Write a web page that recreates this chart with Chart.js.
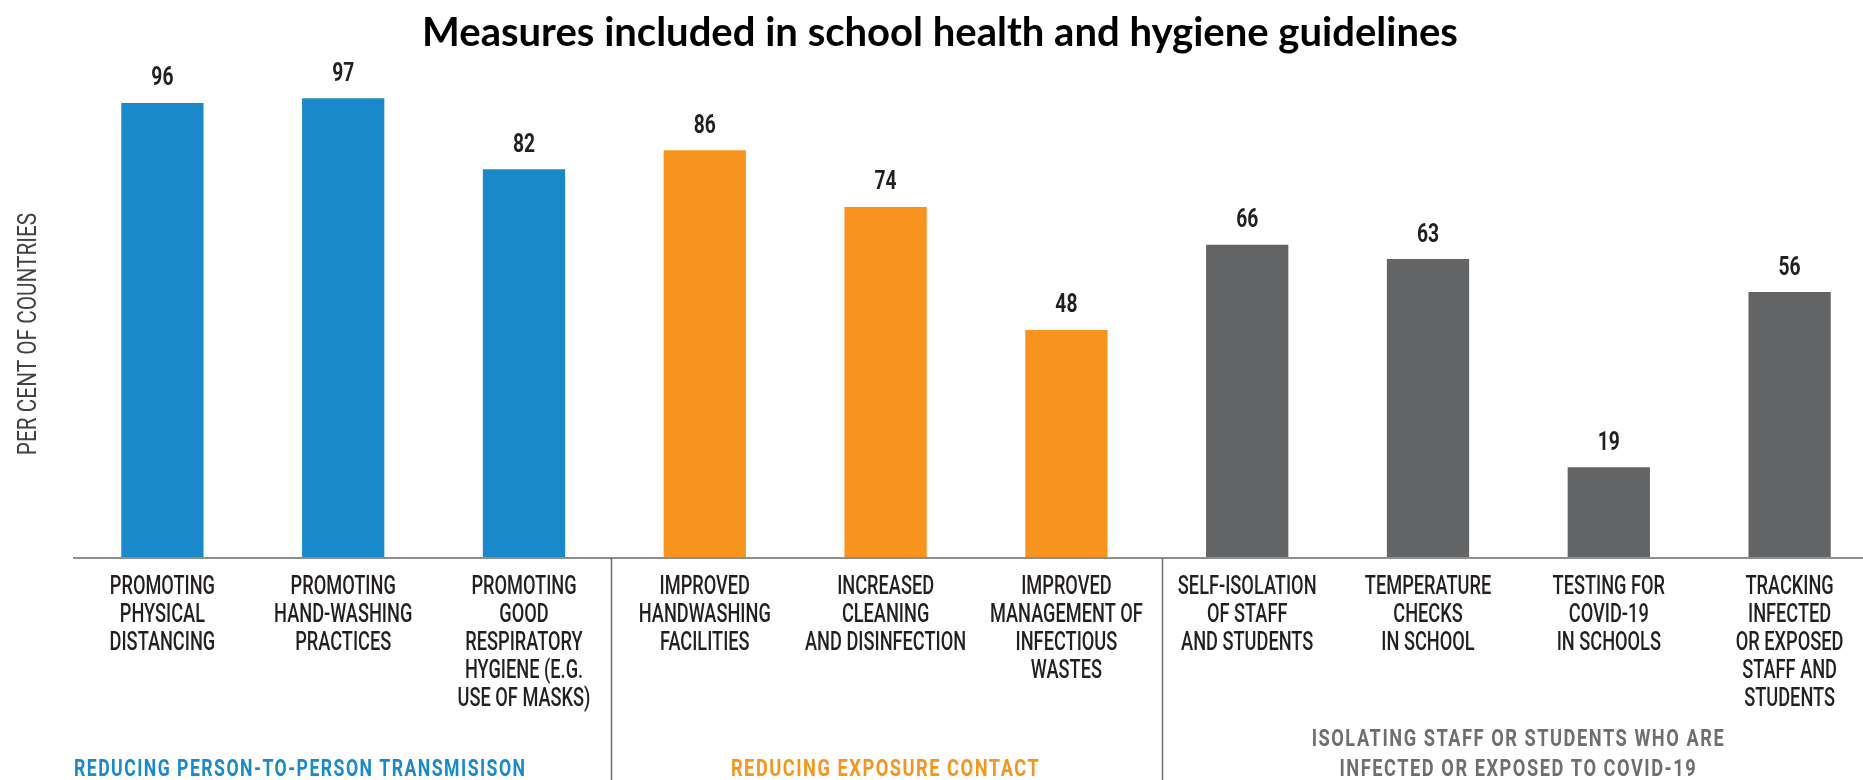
<!DOCTYPE html>
<html><head><meta charset="utf-8">
<script src="https://cdn.jsdelivr.net/npm/chart.js@4.4.1/dist/chart.umd.min.js"></script>
<style>
html,body{margin:0;padding:0;overflow:hidden;background:#fff;width:1863px;height:780px}
#wrap{position:absolute;left:0;top:0;width:1880px;height:780px}
</style></head><body>
<div id="wrap"><canvas id="c" width="1880" height="780"></canvas></div>
<script>
const chartTitle = 'Measures included in school health and hygiene guidelines';
const yAxisTitle = 'PER CENT OF COUNTRIES';
const categories = [
  ['PROMOTING','PHYSICAL','DISTANCING'],
  ['PROMOTING','HAND-WASHING','PRACTICES'],
  ['PROMOTING','GOOD','RESPIRATORY','HYGIENE (E.G.','USE OF MASKS)'],
  ['IMPROVED','HANDWASHING','FACILITIES'],
  ['INCREASED','CLEANING','AND DISINFECTION'],
  ['IMPROVED','MANAGEMENT OF','INFECTIOUS','WASTES'],
  ['SELF-ISOLATION','OF STAFF','AND STUDENTS'],
  ['TEMPERATURE','CHECKS','IN SCHOOL'],
  ['TESTING FOR','COVID-19','IN SCHOOLS'],
  ['TRACKING','INFECTED','OR EXPOSED','STAFF AND','STUDENTS']
];
const values = [96, 97, 82, 86, 74, 48, 66, 63, 19, 56];
const groupOf = [0, 0, 0, 1, 1, 1, 2, 2, 2, 2];
const groupLabels = [
  ['REDUCING PERSON-TO-PERSON TRANSMISISON'],
  ['REDUCING EXPOSURE CONTACT'],
  ['ISOLATING STAFF OR STUDENTS WHO ARE', 'INFECTED OR EXPOSED TO COVID-19']
];
const groupBarColors = ['#1A89C9', '#F7941E', '#636466'];
const groupTextColors = ['#1A89C9', '#F7941E', '#6D6E70'];

// ---- styling helpers ----
const TEXT_DARK = '#231F20';
const dividerShift = [-3, 5];
const measureCtx = document.createElement('canvas').getContext('2d');
function fitSize(text, font, target) {
  measureCtx.font = font.replace('{s}', '100px');
  return 100 * target / measureCtx.measureText(text).width;
}
function ctext(ctx, str, x, y, font, color, sx, align) {
  ctx.save();
  ctx.font = font;
  ctx.fillStyle = color;
  ctx.textBaseline = 'middle';
  ctx.textAlign = align || 'center';
  ctx.translate(x, y);
  ctx.scale(sx, 1);
  ctx.fillText(str, 0, 0);
  ctx.restore();
}

const titleSize = fitSize(chartTitle, 'bold {s} Lato', 1036);
const titleCenter = 33;
const plotTop = 84;
const padTop = titleCenter - 0.6 * titleSize;
const padBottom = plotTop - padTop - 1.2 * titleSize;

const overlay = {
  id: 'overlay',
  afterDatasetsDraw(chart) {
    const ctx = chart.ctx;
    const xs = chart.scales.x, ys = chart.scales.y;
    const y0 = ys.getPixelForValue(0);
    const W = chart.width;
    // baseline
    ctx.save();
    ctx.strokeStyle = '#8E8E8E';
    ctx.lineWidth = 2;
    ctx.beginPath();
    ctx.moveTo(chart.chartArea.left + 1, y0 + 1);
    ctx.lineTo(W, y0 + 1);
    ctx.stroke();
    // group dividers
    ctx.strokeStyle = '#6E6E6E';
    ctx.lineWidth = 1.5;
    let d = 0;
    for (let i = 1; i < values.length; i++) {
      if (groupOf[i] !== groupOf[i - 1]) {
        const xd = Math.round((xs.getPixelForValue(i - 1) + xs.getPixelForValue(i)) / 2) + dividerShift[d++] + 0.5;
        ctx.beginPath();
        ctx.moveTo(xd, y0 + 1);
        ctx.lineTo(xd, chart.height);
        ctx.stroke();
      }
    }
    ctx.restore();

    // value labels
    values.forEach((v, i) => {
      const x = xs.getPixelForValue(i);
      const yt = ys.getPixelForValue(v);
      ctext(ctx, String(v), x, yt - 24, 'bold 26px Roboto', TEXT_DARK, 0.74);
    });
    // category labels
    categories.forEach((lines, i) => {
      const x = xs.getPixelForValue(i);
      lines.forEach((ln, k) => {
        ctext(ctx, ln, x, 587 + k * 28, '500 26px Roboto', TEXT_DARK, 0.7);
      });
    });
    // group labels
    const groupStart = [], groupEnd = [];
    groupOf.forEach((g, i) => {
      if (groupStart[g] === undefined) groupStart[g] = i;
      groupEnd[g] = i;
    });
    groupLabels.forEach((lines, g) => {
      const n = lines.length;
      lines.forEach((ln, k) => {
        const yy = 770 - (n - 1 - k) * 30;
        ctx.save();
        ctx.letterSpacing = '2px';
        if (g === 0) {
          ctext(ctx, ln, chart.chartArea.left + 2, yy, 'bold 24px Roboto', groupTextColors[g], 0.735, 'left');
        } else {
          const xc = (xs.getPixelForValue(groupStart[g]) + xs.getPixelForValue(groupEnd[g])) / 2;
          ctext(ctx, ln, xc, yy, 'bold 24px Roboto', groupTextColors[g], 0.76, 'center');
        }
        ctx.restore();
      });
    });
    // y axis title
    ctx.save();
    ctx.translate(29, 334);
    ctx.rotate(-Math.PI / 2);
    ctext(ctx, yAxisTitle, 0, 0, '26px Roboto', '#414042', 0.8);
    ctx.restore();
  }
};

new Chart(document.getElementById('c'), {
  type: 'bar',
  data: {
    labels: categories,
    datasets: [{
      data: values,
      backgroundColor: values.map((v, i) => groupBarColors[groupOf[i]]),
      borderWidth: 0,
      barPercentage: 0.455,
      categoryPercentage: 1.0
    }]
  },
  options: {
    responsive: false,
    animation: false,
    devicePixelRatio: 1,
    layout: { padding: { left: 0, right: 0, top: 0, bottom: 780 - 557 } },
    scales: {
      x: { type: 'category', display: false, offset: true },
      y: {
        display: true, min: 0, max: 100,
        ticks: { display: false },
        grid: { display: false, drawTicks: false },
        border: { display: false },
        afterFit(scale) { scale.width = 72; }
      }
    },
    plugins: {
      legend: { display: false },
      tooltip: { enabled: false },
      title: {
        display: true,
        text: chartTitle,
        color: '#000000',
        font: { family: 'Lato', weight: 'bold', size: titleSize },
        padding: { top: padTop, bottom: padBottom }
      }
    }
  },
  plugins: [overlay]
});
</script>
</body></html>
